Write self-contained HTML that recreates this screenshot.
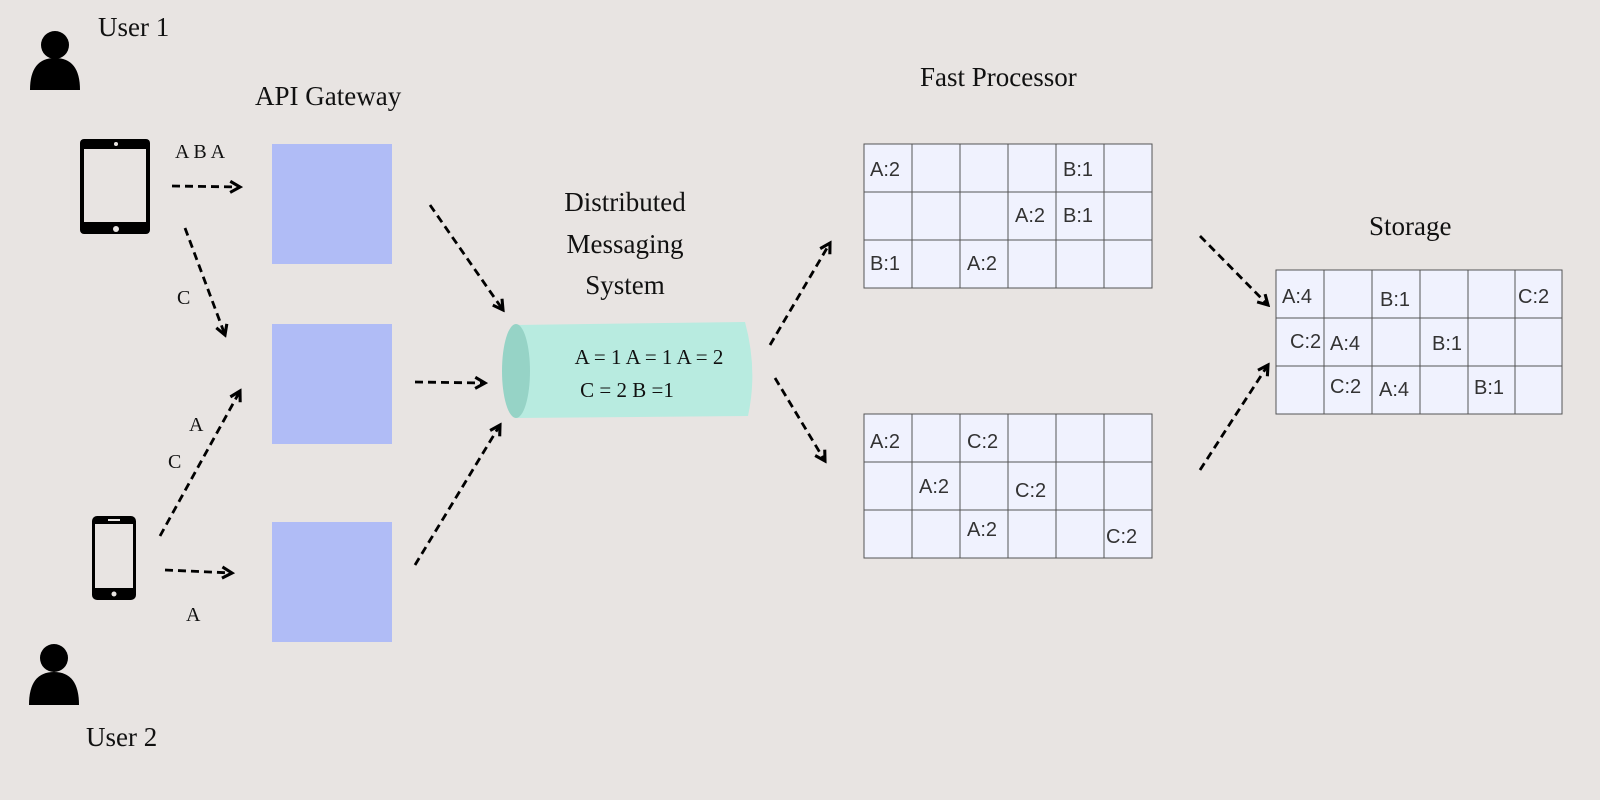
<!DOCTYPE html>
<html><head><style>
body{margin:0;background:#e8e4e2;}
svg{display:block}
.s{font-family:"Liberation Serif",serif;fill:#111}
.t{font-family:"Liberation Sans",sans-serif;font-size:20px;fill:#333}
</style></head><body>
<svg width="1600" height="800" viewBox="0 0 1600 800" xmlns="http://www.w3.org/2000/svg">
<defs>
<marker id="a" viewBox="0 0 10 10" refX="8" refY="5" markerWidth="5" markerHeight="5" orient="auto" markerUnits="strokeWidth">
<polyline points="1,1 8,5 1,9" fill="none" stroke="#000" stroke-width="2.2"/>
</marker>
</defs>
<rect width="1600" height="800" fill="#e8e4e2"/>
<g fill="#000">
<circle cx="55" cy="45" r="14"/><path d="M30,90 Q30,58 55,58 Q80,58 80,90 Z"/>
<circle cx="54" cy="658" r="14"/><path d="M29,705 Q29,672 54,672 Q79,672 79,705 Z"/>
</g>
<rect x="80" y="139" width="70" height="95" rx="4" fill="#000"/>
<rect x="84" y="149" width="62" height="73" fill="#e8e4e2"/>
<circle cx="116" cy="144" r="2" fill="#e8e4e2"/><circle cx="116" cy="229" r="3" fill="#e8e4e2"/>
<rect x="92" y="516" width="44" height="84" rx="5" fill="#000"/>
<rect x="95" y="524" width="38" height="64" fill="#e8e4e2"/>
<rect x="108" y="519" width="12" height="2" fill="#e8e4e2"/><circle cx="114" cy="594" r="2.5" fill="#e8e4e2"/>
<text class="s" x="98" y="36" font-size="27">User 1</text>
<text class="s" x="86" y="746" font-size="27">User 2</text>
<text class="s" x="255" y="105" font-size="27">API Gateway</text>
<text class="s" x="920" y="86" font-size="27">Fast Processor</text>
<text class="s" x="1369" y="235" font-size="27">Storage</text>
<g class="s" font-size="27" text-anchor="middle">
<text x="625" y="211">Distributed</text><text x="625" y="253">Messaging</text><text x="625" y="294">System</text>
</g>
<g class="s" font-size="20">
<text x="175" y="158">A B A</text>
<text x="177" y="304">C</text>
<text x="189" y="431">A</text>
<text x="168" y="468">C</text>
<text x="186" y="621">A</text>
</g>
<g fill="#b0bcf6">
<rect x="272" y="144" width="120" height="120"/>
<rect x="272" y="324" width="120" height="120"/>
<rect x="272" y="522" width="120" height="120"/>
</g>
<path d="M515,325 L745,322 Q758,370 748,416 L515,418 Z" fill="#b8ebe0"/>
<ellipse cx="516" cy="371" rx="14" ry="47" fill="#96d3c6"/>
<g class="s" font-size="21" text-anchor="middle">
<text x="649" y="364">A = 1  A = 1 A = 2</text>
<text x="627" y="397">C = 2 B =1</text>
</g>
<g stroke="#000" stroke-width="2.8" stroke-dasharray="8,5" fill="none" marker-end="url(#a)">
<line x1="172" y1="186" x2="240" y2="187"/>
<line x1="185" y1="228" x2="225" y2="335"/>
<line x1="160" y1="536" x2="240" y2="391"/>
<line x1="165" y1="570" x2="232" y2="573"/>
<line x1="430" y1="205" x2="503" y2="310"/>
<line x1="415" y1="382" x2="485" y2="383"/>
<line x1="415" y1="565" x2="500" y2="425"/>
<line x1="770" y1="345" x2="830" y2="243"/>
<line x1="775" y1="378" x2="825" y2="461"/>
<line x1="1200" y1="236" x2="1268" y2="305"/>
<line x1="1200" y1="470" x2="1268" y2="365"/>
</g>
<g stroke="#555" stroke-width="1" fill="#f0f2fe">
<rect x="864" y="144" width="288" height="144"/>
<path d="M912,144V288M960,144V288M1008,144V288M1056,144V288M1104,144V288M864,192H1152M864,240H1152"/>
<rect x="864" y="414" width="288" height="144"/>
<path d="M912,414V558M960,414V558M1008,414V558M1056,414V558M1104,414V558M864,462H1152M864,510H1152"/>
<rect x="1276" y="270" width="286" height="144"/>
<path d="M1324,270V414M1372,270V414M1420,270V414M1468,270V414M1515,270V414M1276,318H1562M1276,366H1562"/>
</g>
<g class="t">
<text x="870" y="176">A:2</text><text x="1063" y="176">B:1</text>
<text x="1015" y="222">A:2</text><text x="1063" y="222">B:1</text>
<text x="870" y="270">B:1</text><text x="967" y="270">A:2</text>
<text x="870" y="448">A:2</text><text x="967" y="448">C:2</text>
<text x="919" y="493">A:2</text><text x="1015" y="497">C:2</text>
<text x="967" y="536">A:2</text><text x="1106" y="543">C:2</text>
<text x="1282" y="303">A:4</text><text x="1380" y="306">B:1</text><text x="1518" y="303">C:2</text>
<text x="1290" y="348">C:2</text><text x="1330" y="350">A:4</text><text x="1432" y="350">B:1</text>
<text x="1330" y="393">C:2</text><text x="1379" y="396">A:4</text><text x="1474" y="394">B:1</text>
</g>
</svg>
</body></html>
